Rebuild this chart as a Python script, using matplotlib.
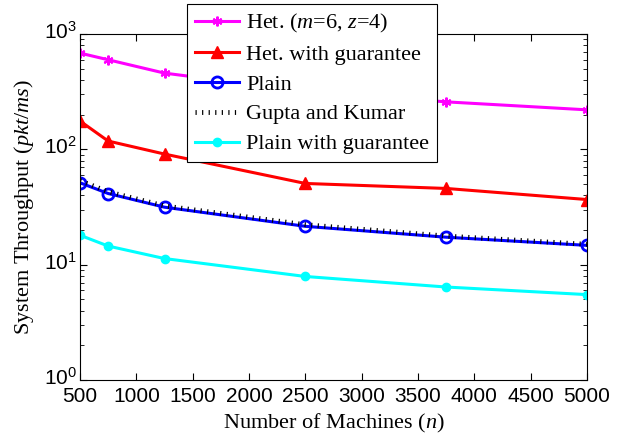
import math
import matplotlib
matplotlib.use("Agg")
import matplotlib.pyplot as plt
import matplotlib.transforms as mtransforms
from matplotlib.ticker import FixedLocator, FuncFormatter, LogLocator, NullFormatter

# datos
n_machines = [500, 750, 1250, 2500, 3750, 5000]
het = [683, 598, 458, 320, 258, 220]
het_guarantee = [176, 118, 91, 50.6, 45.8, 36.7]
plain = [51.3, 41.4, 31.5, 21.5, 17.3, 14.7]
gupta_kumar = [53.5, 42.8, 32.3, 22.2, 17.7, 15.0]
plain_guarantee = [18.0, 14.5, 11.3, 7.9, 6.4, 5.5]
x_ticks = [500, 1000, 1500, 2000, 2500, 3000, 3500, 4000, 4500, 5000]

plt.rcParams['mathtext.fontset'] = 'custom'
plt.rcParams['mathtext.rm'] = 'Liberation Serif'
plt.rcParams['mathtext.it'] = 'Liberation Serif:italic'
plt.rcParams['mathtext.sf'] = 'Liberation Sans'

fig = plt.figure(figsize=(6.23, 4.34), dpi=100)
ax = fig.add_axes([80 / 623, 1 - 380 / 434, 507 / 623, 346 / 434])

ax.plot(n_machines, het, color='magenta', lw=2.2, marker=(6, 2, 0), ms=7, mew=1.5,
        label='Het. ($m$=6, $z$=4)')
ax.plot(n_machines, het_guarantee, color='red', lw=2.2, marker='^', ms=9,
        label='Het. with guarantee')
ax.plot(n_machines, plain, color='blue', lw=2.2, marker='o', ms=8, mew=2,
        mfc='none', label='Plain')
ax.plot(n_machines, gupta_kumar, color='black', lw=3.5, dashes=(0.25, 1.1),
        dash_capstyle='butt', label='Gupta and Kumar')
ax.plot(n_machines, plain_guarantee, color='cyan', lw=2.2, marker='o', ms=6,
        label='Plain with guarantee')

ax.set_yscale('log')
ax.set_ylim(1, 1000)
ax.set_xlim(500, 5000)
ax.xaxis.set_major_locator(FixedLocator(x_ticks))
ax.xaxis.set_major_formatter(FuncFormatter(lambda v, p: '%d' % v))
ax.yaxis.set_major_locator(LogLocator(base=10, numticks=10))
ax.yaxis.set_minor_locator(LogLocator(base=10, subs=range(2, 10), numticks=20))
ax.yaxis.set_minor_formatter(NullFormatter())
ax.yaxis.set_major_formatter(FuncFormatter(
    lambda v, p: r'$\mathsf{10^{%d}}$' % round(math.log10(v))))

ax.tick_params(which='both', direction='in', top=True, right=True)
ax.tick_params(which='major', length=5, labelsize=15)
ax.tick_params(axis='x', pad=5)
ax.tick_params(axis='y', pad=2)
ax.tick_params(which='minor', length=3)
for lab in ax.get_xticklabels():
    lab.set_fontfamily('Liberation Sans')
# subir un poco las etiquetas del eje y
shift = mtransforms.ScaledTranslation(0, 4 / 100, fig.dpi_scale_trans)
for lab in ax.get_yticklabels():
    lab.set_transform(lab.get_transform() + shift)

ax.set_xlabel('Number of Machines ($n$)', fontsize=16, family='Liberation Serif', labelpad=4)
ax.set_ylabel('System Throughput ($pkt/ms$)', fontsize=16, family='Liberation Serif', labelpad=6)

leg = ax.legend(loc='upper left', bbox_to_anchor=(187 / 623, 1 - 4 / 434),
                bbox_transform=fig.transFigure, fancybox=False, edgecolor='black',
                framealpha=1, prop={'family': 'Liberation Serif', 'size': 16},
                handlelength=2.0, handletextpad=0.3, labelspacing=0.42,
                borderpad=0.35, borderaxespad=0)
leg.get_frame().set_linewidth(0.8)

plt.savefig('out.png', dpi=100)
plt.close()
